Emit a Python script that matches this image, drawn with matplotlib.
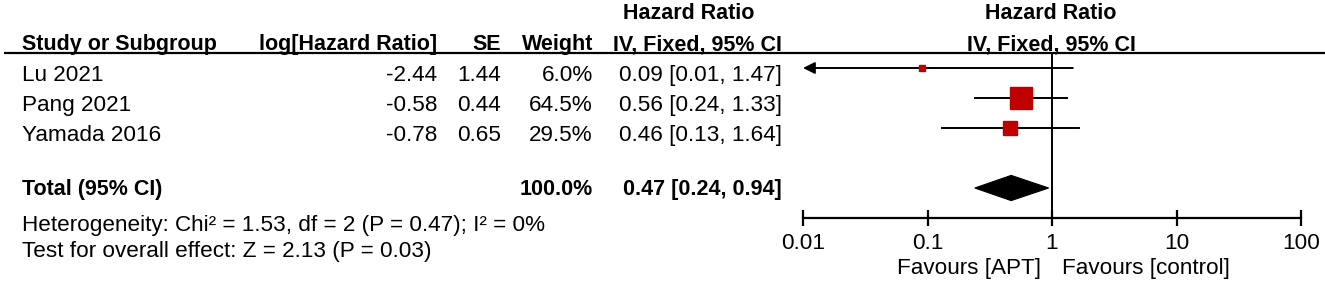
import matplotlib

matplotlib.use("Agg")
import matplotlib.pyplot as plt
from matplotlib.patches import Polygon

plt.rcParams["font.family"] = ["Liberation Sans", "DejaVu Sans"]

# ---------------------------------------------------------------------------
# data
# ---------------------------------------------------------------------------
studies = ["Lu 2021", "Pang 2021", "Yamada 2016"]
log_hr = ["-2.44", "-0.58", "-0.78"]
se = ["1.44", "0.44", "0.65"]
weight = [6.0, 64.5, 29.5]
hr = [0.09, 0.56, 0.46]
ci_lo = [0.01, 0.24, 0.13]
ci_hi = [1.47, 1.33, 1.64]
total_weight = 100.0
total_hr, total_lo, total_hi = 0.47, 0.24, 0.94
heterogeneity = "Heterogeneity: Chi² = 1.53, df = 2 (P = 0.47); I² = 0%"
overall = "Test for overall effect: Z = 2.13 (P = 0.03)"
ticks = [0.01, 0.1, 1, 10, 100]
tick_labels = ["0.01", "0.1", "1", "10", "100"]
favours = ["Favours [APT]", "Favours [control]"]

# ---------------------------------------------------------------------------
# layout (pixels)
# ---------------------------------------------------------------------------
W, H = 1325, 283
FS = 16.2          # regular text
FSB = 15.5         # bold headers
RED = "#C00000"
ROW0, ROW_STEP = 68, 30           # pixel y of first study row, row spacing
PLOT_X0, PLOT_X1 = 803, 1301      # 0.01 .. 100
PLOT_Y0, PLOT_Y1 = 53, 218        # header rule .. scale axis

fig = plt.figure(figsize=(W / 100, H / 100), dpi=100)
fig.patch.set_facecolor("white")

# table layer in pixel coordinates
tab = fig.add_axes([0, 0, 1, 1])
tab.set_xlim(0, W)
tab.set_ylim(H, 0)
tab.axis("off")

bold = dict(fontsize=FSB, fontweight="bold", va="baseline")
norm = dict(fontsize=FS, va="baseline")

# headers
tab.text(689, 19, "Hazard Ratio", ha="center", **bold)
tab.text(1051, 19, "Hazard Ratio", ha="center", **bold)
tab.text(22, 50, "Study or Subgroup", ha="left", **bold)
tab.text(437, 50, "log[Hazard Ratio]", ha="right", **bold)
tab.text(501, 50, "SE", ha="right", **bold)
tab.text(593, 50, "Weight", ha="right", **bold)
tab.text(782, 50, "IV, Fixed, 95% CI", ha="right", **bold)
tab.text(1051, 50, "IV, Fixed, 95% CI", ha="center", **bold)
tab.plot([4, W], [53, 53], color="black", lw=1.6, solid_capstyle="butt")

# study rows
for i, name in enumerate(studies):
    yb = ROW0 + ROW_STEP * i + 13
    tab.text(22, yb, name, ha="left", **norm)
    tab.text(437, yb, log_hr[i], ha="right", **norm)
    tab.text(501, yb, se[i], ha="right", **norm)
    tab.text(593, yb, f"{weight[i]:.1f}%", ha="right", **norm)
    tab.text(782, yb, f"{hr[i]:.2f} [{ci_lo[i]:.2f}, {ci_hi[i]:.2f}]", ha="right", **norm)

# total + footer
yt = ROW0 + ROW_STEP * 4 + 7
tab.text(22, yt, "Total (95% CI)", ha="left", **bold)
tab.text(593, yt, f"{total_weight:.1f}%", ha="right", **bold)
tab.text(782, yt, f"{total_hr:.2f} [{total_lo:.2f}, {total_hi:.2f}]", ha="right", **bold)
tab.text(22, 231, heterogeneity, ha="left", **norm)
tab.text(22, 257, overall, ha="left", **norm)
tab.text(1041, 274, favours[0], ha="right", **norm)
tab.text(1062, 274, favours[1], ha="left", **norm)

# ---------------------------------------------------------------------------
# forest panel
# ---------------------------------------------------------------------------
ax = fig.add_axes([PLOT_X0 / W, 1 - PLOT_Y1 / H,
                   (PLOT_X1 - PLOT_X0) / W, (PLOT_Y1 - PLOT_Y0) / H])
ax.set_xscale("log")
ax.set_xlim(ticks[0], ticks[-1])
ax.set_ylim(5, -0.5)
ax.patch.set_alpha(0)
for s in ("top", "left", "right"):
    ax.spines[s].set_visible(False)
ax.spines["bottom"].set_linewidth(1.6)
ax.set_yticks([])
ax.set_xticks(ticks)
ax.set_xticklabels(tick_labels)
ax.minorticks_off()
ax.tick_params(axis="x", direction="inout", length=11, width=1.6,
               labelsize=FS, pad=5)

ax.axvline(1, color="black", lw=1.4, zorder=1)

for i in range(len(studies)):
    if ci_lo[i] <= ticks[0]:
        ax.annotate("", xy=(ticks[0], i), xytext=(ci_hi[i], i),
                    arrowprops=dict(arrowstyle="-|>,head_length=0.7,head_width=0.35",
                                    color="black", lw=1.4, shrinkA=0, shrinkB=0),
                    annotation_clip=False)
    else:
        ax.plot([ci_lo[i], ci_hi[i]], [i, i], color="black", lw=1.4, zorder=2)
    ax.plot(hr[i], i, marker="s", color=RED, markeredgecolor=RED,
            markersize=1.97 * weight[i] ** 0.5, zorder=3, clip_on=False)

dh = 0.42
diamond = Polygon([(total_lo, 4), (total_hr, 4 - dh), (total_hi, 4), (total_hr, 4 + dh)],
                  closed=True, facecolor="black", edgecolor="black", lw=0.8, zorder=3)
ax.add_patch(diamond)

fig.savefig("out.png", dpi=100, facecolor="white")
